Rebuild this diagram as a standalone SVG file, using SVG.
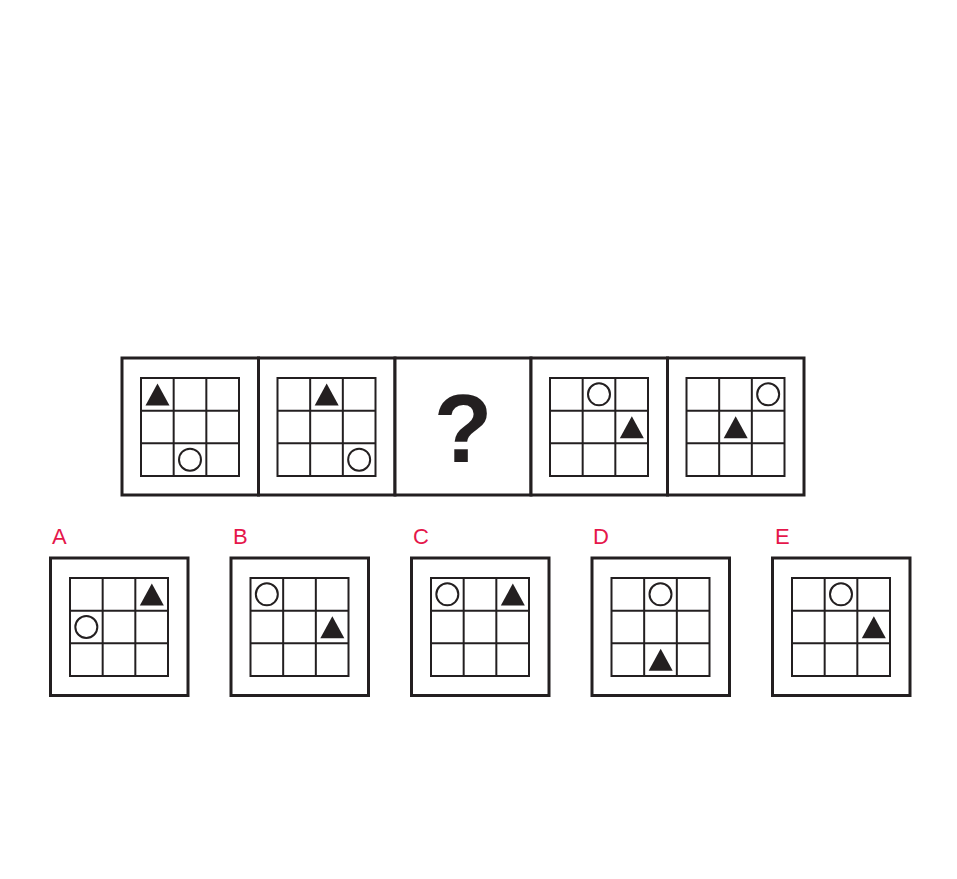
<svg xmlns="http://www.w3.org/2000/svg" xmlns:xlink="http://www.w3.org/1999/xlink" width="957" height="879" viewBox="0 0 957 879">
<style>
.box{fill:#fff;stroke:#231f20;stroke-width:3}
.g{fill:none;stroke:#231f20;stroke-width:2}
.tri{fill:#231f20}
.cir{fill:#fff;stroke:#231f20;stroke-width:2}
.lbl{font-family:"Liberation Sans",Arial,sans-serif;font-size:22px;fill:#e5174b}
.q{font-family:"Liberation Sans",Arial,sans-serif;font-weight:bold;font-size:96px;fill:#231f20}
</style>
<defs>
<g id="grid">
<rect class="g" x="0" y="0" width="98" height="98"/>
<line class="g" x1="32.67" y1="0" x2="32.67" y2="98"/>
<line class="g" x1="65.33" y1="0" x2="65.33" y2="98"/>
<line class="g" x1="0" y1="32.67" x2="98" y2="32.67"/>
<line class="g" x1="0" y1="65.33" x2="98" y2="65.33"/>
</g>
<polygon id="tri" class="tri" points="4.5,27.5 28.5,27.5 16.5,5.5"/>
<circle id="cir" class="cir" cx="16.33" cy="16.33" r="11"/>
</defs>
<rect width="957" height="879" fill="#fff"/>

<g id="panel1">
<rect class="box" x="122" y="358" width="136.5" height="137"/>
<g transform="translate(141,378)"><use xlink:href="#grid"/><use xlink:href="#tri" x="0" y="0"/><use xlink:href="#cir" x="32.67" y="65.33"/></g>
</g>
<g id="panel2">
<rect class="box" x="258.5" y="358" width="136.5" height="137"/>
<g transform="translate(277.5,378)"><use xlink:href="#grid"/><use xlink:href="#tri" x="32.67" y="0"/><use xlink:href="#cir" x="65.33" y="65.33"/></g>
</g>
<g id="panel3">
<rect class="box" x="395" y="358" width="136" height="137"/>
<text class="q" x="463" y="462" text-anchor="middle">?</text>
</g>
<g id="panel4">
<rect class="box" x="531" y="358" width="136.5" height="137"/>
<g transform="translate(550,378)"><use xlink:href="#grid"/><use xlink:href="#cir" x="32.67" y="0"/><use xlink:href="#tri" x="65.33" y="32.67"/></g>
</g>
<g id="panel5">
<rect class="box" x="667.5" y="358" width="136.5" height="137"/>
<g transform="translate(686.5,378)"><use xlink:href="#grid"/><use xlink:href="#cir" x="65.33" y="0"/><use xlink:href="#tri" x="32.67" y="32.67"/></g>
</g>

<g id="optionA">
<text class="lbl" x="52" y="544">A</text>
<rect class="box" x="50.5" y="558" width="137.5" height="137.5"/>
<g transform="translate(70,578)"><use xlink:href="#grid"/><use xlink:href="#tri" x="65.33" y="0"/><use xlink:href="#cir" x="0" y="32.67"/></g>
</g>
<g id="optionB">
<text class="lbl" x="233" y="544">B</text>
<rect class="box" x="231" y="558" width="137.5" height="137.5"/>
<g transform="translate(250.5,578)"><use xlink:href="#grid"/><use xlink:href="#cir" x="0" y="0"/><use xlink:href="#tri" x="65.33" y="32.67"/></g>
</g>
<g id="optionC">
<text class="lbl" x="413" y="544">C</text>
<rect class="box" x="411.5" y="558" width="137.5" height="137.5"/>
<g transform="translate(431,578)"><use xlink:href="#grid"/><use xlink:href="#cir" x="0" y="0"/><use xlink:href="#tri" x="65.33" y="0"/></g>
</g>
<g id="optionD">
<text class="lbl" x="593" y="544">D</text>
<rect class="box" x="592" y="558" width="137.5" height="137.5"/>
<g transform="translate(611.5,578)"><use xlink:href="#grid"/><use xlink:href="#cir" x="32.67" y="0"/><use xlink:href="#tri" x="32.67" y="65.33"/></g>
</g>
<g id="optionE">
<text class="lbl" x="775" y="544">E</text>
<rect class="box" x="772.5" y="558" width="137.5" height="137.5"/>
<g transform="translate(792,578)"><use xlink:href="#grid"/><use xlink:href="#cir" x="32.67" y="0"/><use xlink:href="#tri" x="65.33" y="32.67"/></g>
</g>
<g id="connectors"/>
</svg>
